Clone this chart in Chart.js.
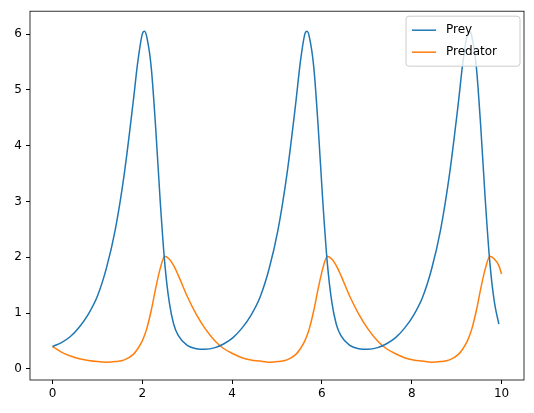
<!DOCTYPE html>
<html>
<head>
<script src="https://cdn.jsdelivr.net/npm/chart.js@4"></script>
<style>body{margin:0;background:#fff}#wrap{width:534px;height:413px}</style>
</head>
<body>
<div id="wrap"><canvas id="myChart"></canvas></div>
<script>
const times = [0,0.2,0.4,0.6,0.8,1.0,1.2,1.4,1.6,1.8,1.9,2.0,2.05,2.1,2.2,2.3,2.4,2.5,2.6,2.7,2.8,3.0,3.2,3.4,
  3.62,3.82,4.02,4.22,4.42,4.62,4.82,5.02,5.22,5.42,5.52,5.62,5.67,5.72,5.82,5.92,6.02,6.12,6.22,6.32,6.42,6.62,6.82,7.02,
  7.24,7.44,7.64,7.84,8.04,8.24,8.44,8.64,8.84,9.04,9.14,9.24,9.29,9.34,9.44,9.54,9.64,9.74,9.84,9.94,10];
const prey = [0.4,0.47,0.58,0.75,0.98,1.3,1.8,2.5,3.5,4.8,5.5,6.0,6.05,5.95,5.4,4.3,3.0,1.9,1.2,0.8,0.6,0.42,0.36,0.35,
  0.38,0.45,0.56,0.73,0.96,1.28,1.78,2.48,3.48,4.78,5.5,6.0,6.05,5.95,5.4,4.3,3.0,1.9,1.2,0.8,0.6,0.42,0.36,0.35,
  0.38,0.45,0.56,0.73,0.96,1.28,1.78,2.48,3.48,4.78,5.5,6.0,6.05,5.95,5.4,4.3,3.0,1.9,1.2,0.8];
const predator = [0.4,0.3,0.23,0.18,0.15,0.13,0.12,0.13,0.16,0.26,0.36,0.5,0.6,0.72,1.05,1.45,1.8,2.02,1.97,1.85,1.68,1.3,0.98,0.72,
  0.5,0.36,0.27,0.2,0.16,0.14,0.12,0.13,0.16,0.26,0.36,0.5,0.6,0.72,1.05,1.45,1.8,2.02,1.97,1.85,1.68,1.3,0.98,0.72,
  0.5,0.36,0.27,0.2,0.16,0.14,0.12,0.13,0.16,0.26,0.36,0.5,0.6,0.72,1.05,1.45,1.8,2.02,1.97,1.85,1.7];
const xTicks = [0,2,4,6,8,10];
const yTicks = [0,1,2,3,4,5,6];
const labels = ['Prey','Predator'];
const colors = ['#1f77b4','#ff7f0e'];

Chart.defaults.font.family = 'DejaVu Sans';
Chart.defaults.font.size = 12;
Chart.defaults.color = '#000';

const pts = ys => times.map((t, i) => ({x: t, y: ys[i]}));

const frame = {
  id: 'frame',
  afterDraw(chart) {
    const {ctx, chartArea: a} = chart;
    ctx.save();
    ctx.strokeStyle = '#000'; ctx.lineWidth = 0.8;
    ctx.strokeRect(a.left, a.top, a.right - a.left, a.bottom - a.top);
    // legend box
    const w = 114, h = 50, x0 = a.right - w - 4, y0 = a.top + 5;
    ctx.fillStyle = 'rgba(255,255,255,0.8)';
    ctx.strokeStyle = '#ccc'; ctx.lineWidth = 1;
    ctx.beginPath(); ctx.roundRect(x0, y0, w, h, 3); ctx.fill(); ctx.stroke();
    ctx.font = '12px "DejaVu Sans"'; ctx.textBaseline = 'middle';
    labels.forEach((l, i) => {
      const yy = y0 + 14 + i * 22;
      ctx.strokeStyle = colors[i]; ctx.lineWidth = 1.5;
      ctx.beginPath(); ctx.moveTo(x0 + 6, yy); ctx.lineTo(x0 + 30, yy); ctx.stroke();
      ctx.fillStyle = '#000'; ctx.fillText(l, x0 + 40, yy);
    });
    ctx.restore();
  }
};

const axisGrid = {display: true, drawOnChartArea: false, drawTicks: true, tickLength: 4, color: '#000'};

new Chart(document.getElementById('myChart'), {
  type: 'line',
  data: {
    datasets: labels.map((l, i) => ({
      label: l, data: pts(i ? predator : prey),
      borderColor: colors[i], borderWidth: 1.5, pointRadius: 0,
      cubicInterpolationMode: 'monotone'
    }))
  },
  options: {
    animation: false, responsive: true, maintainAspectRatio: false,
    layout: {padding: {top: 8, right: 10}},
    plugins: {legend: {display: false}, tooltip: {enabled: false}},
    scales: {
      x: {
        type: 'linear', min: -0.5, max: 10.5,
        grid: axisGrid, border: {display: false},
        afterBuildTicks: s => { s.ticks = xTicks.map(v => ({value: v})); },
        ticks: {maxRotation: 0, padding: 3},
        afterFit: s => { s.height = 33; }
      },
      y: {
        min: -0.2, max: 6.41,
        grid: axisGrid, border: {display: false},
        afterBuildTicks: s => { s.ticks = yTicks.map(v => ({value: v})); },
        ticks: {padding: 4},
        afterFit: s => { s.width = 30; }
      }
    }
  },
  plugins: [frame]
});
</script>
</body>
</html>
